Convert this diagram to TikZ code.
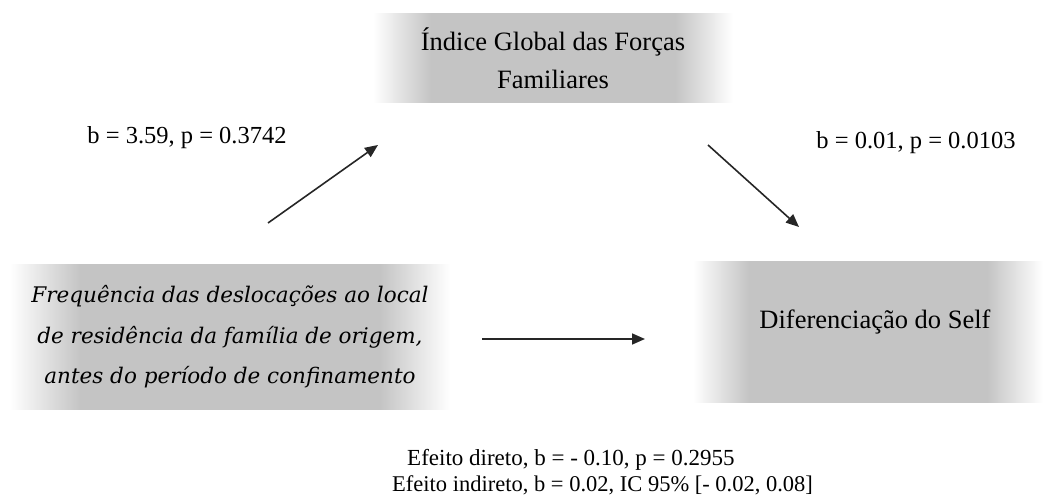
\documentclass[tikz,border=0pt]{standalone}
\usepackage{fontspec}
\setmainfont{Liberation Serif}
\newfontfamily\dvfont{DejaVu Serif}
\usetikzlibrary{arrows.meta}
\definecolor{boxgray}{RGB}{196,196,196}
\pgfdeclarehorizontalshading{boxfade}{100bp}{color(0bp)=(white); color(25bp)=(white); color(33bp)=(boxgray); color(67bp)=(boxgray); color(75bp)=(white); color(100bp)=(white)}
\begin{document}
\begin{tikzpicture}[x=1bp,y=-1bp,
  varbox/.style={shading=boxfade, shading angle=0, inner sep=0pt, align=center},
  boxtext/.style={font=\fontsize{26.5bp}{38bp}\selectfont},
  lbl/.style={font=\fontsize{24.5bp}{27bp}\selectfont, inner sep=0pt},
  efflbl/.style={font=\fontsize{23bp}{27bp}\selectfont, inner sep=0pt},
  patharrow/.style={draw=black!85, line width=1.6bp, -{Triangle[length=13bp,width=11bp]}}]
\useasboundingbox (0,0) rectangle (1043,498);
% boxes
\node[varbox, boxtext, minimum width=360bp, minimum height=89bp] (med) at (553,58.5) {Índice Global das Forças\\Familiares};
\node[varbox, minimum width=440bp, minimum height=144bp, font=\dvfont\itshape\fontsize{21.5bp}{40.5bp}\selectfont] (pred) at (230,337) {Frequência das deslocações ao local\\de residência da família de origem,\\antes do período de confinamento};
\node[varbox, minimum width=350bp, minimum height=140bp] (outc) at (868,332) {};
\node[boxtext, inner sep=0pt] (outctext) at (875,322) {Diferenciação do Self};
% arrow end points
\coordinate (a1s) at (268,223);
\coordinate (a1e) at (378,145);
\coordinate (a2s) at (708,145);
\coordinate (a2e) at (799,227);
\coordinate (a3s) at (482,339);
\coordinate (a3e) at (645,339);
\draw[patharrow] (a1s) -- (a1e);
\draw[patharrow] (a2s) -- (a2e);
\draw[patharrow] (a3s) -- (a3e);
% labels
\node[lbl, anchor=base] (l1) at (187,144) {b = 3.59, p = 0.3742};
\node[lbl, anchor=base] (l2) at (916,149) {b = 0.01, p = 0.0103};
\node[efflbl, anchor=base west] (eff1) at (407,465) {Efeito direto, b = - 0.10, p = 0.2955};
\node[efflbl, font=\fontsize{22.5bp}{27bp}\selectfont, anchor=base west] (eff2) at (392,491) {Efeito indireto, b = 0.02, IC 95\% [- 0.02, 0.08]};
\end{tikzpicture}
\end{document}
